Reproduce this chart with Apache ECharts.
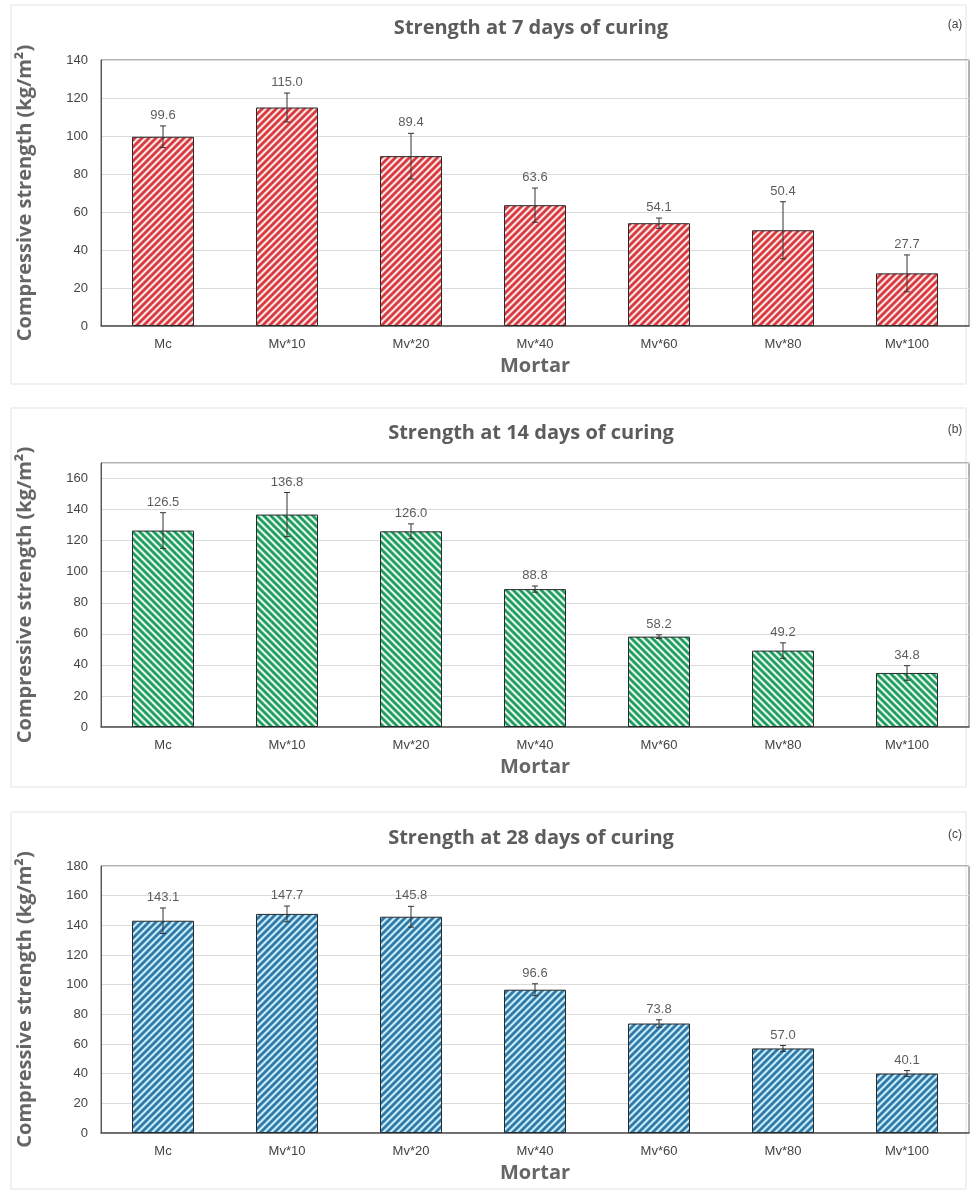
<!DOCTYPE html>
<html>
<head>
<meta charset="utf-8">
<script src="https://cdn.jsdelivr.net/npm/echarts@6/dist/echarts.min.js"></script>
<style>
  html, body { margin: 0; padding: 0; background: #fff; }
  #strengthChart { width: 976px; height: 1191px; }
</style>
</head>
<body>
<div id="strengthChart"></div>
<script>
const categories = ["Mc", "Mv*10", "Mv*20", "Mv*40", "Mv*60", "Mv*80", "Mv*100"];
const strength7 = [99.6, 115.0, 89.4, 63.6, 54.1, 50.4, 27.7];
const error7 = [5.7, 7.6, 12.0, 9.0, 2.7, 15.0, 9.7];
const strength14 = [126.5, 136.8, 126.0, 88.8, 58.2, 49.2, 34.8];
const error14 = [11.5, 14.2, 4.8, 2.0, 1.2, 5.0, 4.7];
const strength28 = [143.1, 147.7, 145.8, 96.6, 73.8, 57.0, 40.1];
const error28 = [8.6, 5.3, 7.0, 4.0, 2.5, 2.0, 2.0];
const yMax = [140, 170, 180];
const titles = ["Strength at 7 days of curing", "Strength at 14 days of curing", "Strength at 28 days of curing"];
const tags = ["(a)", "(b)", "(c)"];

// hatch fill for the bars
const makeHatch = (bg, fg, dir) => {
  const s = 7;
  const c = document.createElement("canvas");
  c.width = s;
  c.height = s;
  const ctx = c.getContext("2d");
  ctx.fillStyle = bg;
  ctx.fillRect(0, 0, s, s);
  ctx.strokeStyle = fg;
  ctx.lineWidth = 2.8;
  ctx.beginPath();
  if (dir > 0) {
    ctx.moveTo(0, s); ctx.lineTo(s, 0);
    ctx.moveTo(-s / 2, s / 2); ctx.lineTo(s / 2, -s / 2);
    ctx.moveTo(s / 2, s * 1.5); ctx.lineTo(s * 1.5, s / 2);
  } else {
    ctx.moveTo(0, 0); ctx.lineTo(s, s);
    ctx.moveTo(-s / 2, s / 2); ctx.lineTo(s / 2, s * 1.5);
    ctx.moveTo(s / 2, -s / 2); ctx.lineTo(s * 1.5, s / 2);
  }
  ctx.stroke();
  return { image: c, repeat: "repeat" };
};

const panels = [
  { values: strength7, errors: error7, fill: makeHatch("#fbe4e4", "#d93a40", 1), top: 60, height: 266, frameTop: 5, frameH: 379, titleTop: 13 },
  { values: strength14, errors: error14, fill: makeHatch("#e6f6ec", "#1f9e5f", -1), top: 463, height: 264, frameTop: 408, frameH: 379, titleTop: 418 },
  { values: strength28, errors: error28, fill: makeHatch("#c9ebf7", "#2e79a8", 1), top: 866, height: 267, frameTop: 812, frameH: 377, titleTop: 823 },
];

const labelFont = "Liberation Sans";
const headFont = "Open Sans";

const grid = [];
const xAxis = [];
const yAxis = [];
const series = [];
const title = [];
const graphic = [];

panels.forEach((p, k) => {
  grid.push({
    left: 101,
    top: p.top,
    width: 868,
    height: p.height,
    show: true,
    borderColor: "#666",
    borderWidth: 1,
  });
  xAxis.push({
    type: "category",
    gridIndex: k,
    data: categories,
    name: "Mortar",
    nameLocation: "middle",
    nameGap: 30,
    nameTextStyle: { fontFamily: headFont, fontWeight: "bold", fontSize: 20, color: "#666" },
    axisLine: { lineStyle: { color: "#555", width: 1.5 } },
    axisTick: { show: false },
    axisLabel: { margin: 12, fontFamily: labelFont, fontSize: 13, color: "#444" },
  });
  yAxis.push({
    type: "value",
    gridIndex: k,
    min: 0,
    max: yMax[k],
    interval: 20,
    name: "Compressive strength (kg/m²)",
    nameLocation: "middle",
    nameGap: 66,
    nameTextStyle: { fontFamily: headFont, fontWeight: "bold", fontSize: 20, color: "#666" },
    axisLine: { show: true, lineStyle: { color: "#555" } },
    axisTick: { show: false },
    axisLabel: {
      margin: 13,
      fontFamily: labelFont,
      fontSize: 13,
      color: "#444",
      formatter: (v) => (v % 20 === 0 ? v : ""),
    },
    splitLine: { lineStyle: { color: "#dadada", width: 1 } },
  });
  series.push({
    type: "bar",
    xAxisIndex: k,
    yAxisIndex: k,
    data: p.values,
    barWidth: "50%",
    itemStyle: { color: p.fill, borderColor: "#2a2a2a", borderWidth: 1 },
  });
  series.push({
    type: "custom",
    xAxisIndex: k,
    yAxisIndex: k,
    z: 5,
    data: p.values.map((v, i) => [i, v, p.errors[i]]),
    encode: { x: 0, y: 1 },
    renderItem: (params, api) => {
      const x = api.value(0);
      const y = api.value(1);
      const e = api.value(2);
      const hi = api.coord([x, y + e]);
      const lo = api.coord([x, y - e]);
      const cap = 3;
      const st = { stroke: "#333", lineWidth: 1 };
      return {
        type: "group",
        children: [
          { type: "line", shape: { x1: hi[0], y1: hi[1], x2: lo[0], y2: lo[1] }, style: st },
          { type: "line", shape: { x1: hi[0] - cap, y1: hi[1], x2: hi[0] + cap, y2: hi[1] }, style: st },
          { type: "line", shape: { x1: lo[0] - cap, y1: lo[1], x2: lo[0] + cap, y2: lo[1] }, style: st },
        ],
      };
    },
  });
  series.push({
    type: "scatter",
    xAxisIndex: k,
    yAxisIndex: k,
    symbolSize: 0,
    z: 6,
    data: p.values.map((v, i) => [i, v + p.errors[i], v]),
    label: {
      show: true,
      position: "top",
      distance: 4,
      fontFamily: labelFont,
      fontSize: 13,
      color: "#333",
      formatter: (d) => d.value[2].toFixed(1),
    },
  });
  title.push({
    text: titles[k],
    left: 526,
    top: p.titleTop,
    textAlign: "center",
    textStyle: { fontFamily: headFont, fontWeight: "bold", fontSize: 20, color: "#5c5c5c" },
  });
  graphic.push({
    type: "rect",
    silent: true,
    z: -1,
    shape: { x: 11, y: p.frameTop, width: 955, height: p.frameH },
    style: { fill: "none", stroke: "#e3e3e3", lineWidth: 1 },
  });
  graphic.push({
    type: "text",
    x: 955,
    y: p.titleTop + 12,
    style: { text: tags[k], font: "12px 'Liberation Sans'", fill: "#444", align: "center", verticalAlign: "middle" },
  });
});

const strengthChart = echarts.init(document.getElementById("strengthChart"));
strengthChart.setOption({
  animation: false,
  title: title,
  grid: grid,
  xAxis: xAxis,
  yAxis: yAxis,
  series: series,
  graphic: graphic,
});
</script>
</body>
</html>
